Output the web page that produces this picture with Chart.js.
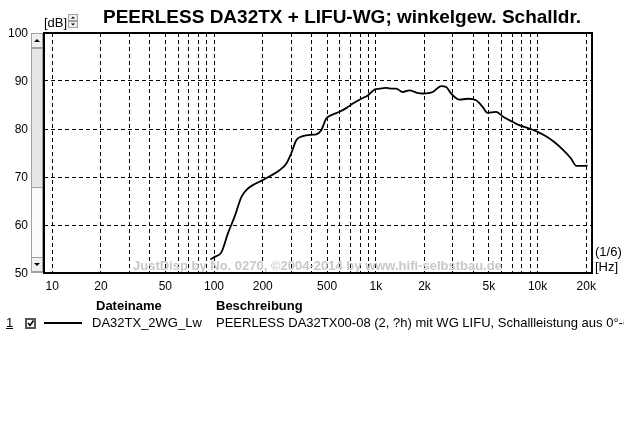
<!DOCTYPE html>
<html>
<head>
<meta charset="utf-8">
<script src="https://cdn.jsdelivr.net/npm/chart.js@4/dist/chart.umd.min.js"></script>
<style>
    html, body { margin: 0; padding: 0; background: #fff; overflow: hidden; }
    canvas { display: block; }
</style>
</head>
<body>
<canvas id="fr_chart" width="624" height="421"></canvas>
<script>
// frequency response
const freqs = [95, 100, 111, 122, 134, 148, 162, 180, 196, 225, 255, 280, 300, 323, 354, 400, 428, 460, 494, 540, 597, 660, 722, 813, 893, 982, 1054, 1159, 1274, 1336, 1468, 1614, 1780, 1951, 2250, 2535, 2722, 2920, 3288, 3700, 4168, 4575, 4910, 5530, 6225, 7010, 7710, 8890, 10000, 11270, 12680, 14270, 16060, 17400, 18070, 20360];
const levels = [52.8, 53.3, 54.3, 58.3, 61.75, 65.9, 67.6, 68.6, 69.2, 70.3, 71.45, 72.8, 74.9, 77.7, 78.5, 78.8, 78.9, 79.75, 82.2, 83.0, 83.6, 84.4, 85.3, 86.3, 87.0, 88.2, 88.4, 88.55, 88.4, 88.4, 87.7, 88.05, 87.6, 87.4, 87.7, 88.95, 88.75, 87.4, 86.1, 86.3, 86.0, 84.6, 83.35, 83.55, 82.4, 81.5, 80.8, 80.1, 79.4, 78.5, 77.3, 75.75, 73.9, 72.3, 72.3, 72.35];

const xGridValues = [10, 20, 30, 40, 50, 60, 70, 80, 90, 100, 200, 300, 400, 500, 600, 700, 800, 900, 1000, 2000, 3000, 4000, 5000, 6000, 7000, 8000, 9000, 10000, 20000];
const xTickValues = [10, 20, 50, 100, 200, 500, 1000, 2000, 5000, 10000, 20000];
const xTickLabels = ['10', '20', '50', '100', '200', '500', '1k', '2k', '5k', '10k', '20k'];
const yTicks = [100, 90, 80, 70, 60, 50];

const titleText = 'PEERLESS DA32TX + LIFU-WG; winkelgew. Schalldr.';
const watermark = 'JustDisp by No. 0270, \u00a92004-2014 by www.hifi-selbstbau.de';
const fileName = 'DA32TX_2WG_Lw';
const description = 'PEERLESS DA32TX00-08 (2, ?h) mit WG LIFU, Schallleistung aus 0\u00b0-60\u00b0';

const FONT = '"Liberation Sans", Arial, sans-serif';

function drawButton(ctx, x, y, w, h) {
    ctx.fillStyle = '#f0f0f0';
    ctx.fillRect(x, y, w, h);
    ctx.strokeStyle = '#a0a0a0';
    ctx.lineWidth = 1;
    ctx.strokeRect(x + 0.5, y + 0.5, w - 1, h - 1);
}

function drawArrow(ctx, cx, cy, up, size) {
    ctx.fillStyle = '#000';
    ctx.beginPath();
    if (up) {
        ctx.moveTo(cx - size, cy + size / 2);
        ctx.lineTo(cx + size, cy + size / 2);
        ctx.lineTo(cx, cy - size / 2);
    } else {
        ctx.moveTo(cx - size, cy - size / 2);
        ctx.lineTo(cx + size, cy - size / 2);
        ctx.lineTo(cx, cy + size / 2);
    }
    ctx.closePath();
    ctx.fill();
}

const decor = {
    id: 'decor',
    beforeDraw(chart) {
        const ctx = chart.ctx;
        ctx.save();
        ctx.fillStyle = '#fff';
        ctx.fillRect(0, 0, chart.width, chart.height);
        ctx.restore();
    },
    beforeDatasetsDraw(chart) {
        const ctx = chart.ctx;
        ctx.save();
        ctx.fillStyle = '#c8c8c8';
        ctx.font = 'bold 13px ' + FONT;
        ctx.textAlign = 'left';
        ctx.textBaseline = 'alphabetic';
        ctx.fillText(watermark, 133, 270);
        ctx.restore();
    },
    afterDraw(chart) {
        const ctx = chart.ctx;
        const a = chart.chartArea;
        const xs = chart.scales.x;
        const ys = chart.scales.y;
        ctx.save();

        // frame
        ctx.strokeStyle = '#000';
        ctx.lineWidth = 2;
        ctx.strokeRect(a.left, a.top, a.right - a.left, a.bottom - a.top);

        // scrollbar next to the y axis
        ctx.fillStyle = '#fbfbfb';
        ctx.fillRect(31, 33, 12, 240);
        ctx.strokeStyle = '#a0a0a0';
        ctx.lineWidth = 1;
        ctx.strokeRect(31.5, 33.5, 11, 239);
        ctx.fillStyle = '#e6e6e6';
        ctx.fillRect(32, 48, 10, 140);
        ctx.strokeStyle = '#a0a0a0';
        ctx.strokeRect(31.5, 48.5, 11, 139);
        drawButton(ctx, 31, 33, 12, 15);
        drawArrow(ctx, 37, 40.5, true, 3);
        drawButton(ctx, 31, 257, 12, 15);
        drawArrow(ctx, 37, 264.5, false, 3);

        // y tick labels
        ctx.fillStyle = '#000';
        ctx.font = '12px ' + FONT;
        ctx.textAlign = 'right';
        ctx.textBaseline = 'middle';
        yTicks.forEach(v => ctx.fillText(String(v), 28, ys.getPixelForValue(v) + 1));

        // x tick labels
        ctx.textAlign = 'center';
        xTickValues.forEach((v, i) => ctx.fillText(xTickLabels[i], xs.getPixelForValue(v), 287));

        // units
        ctx.font = '13px ' + FONT;
        ctx.textAlign = 'left';
        ctx.textBaseline = 'alphabetic';
        ctx.fillText('[dB]', 44, 27);
        ctx.fillText('(1/6)', 595, 256);
        ctx.fillText('[Hz]', 595, 271);

        // spin button beside [dB]
        drawButton(ctx, 68, 14, 10, 7);
        drawArrow(ctx, 73, 17.5, true, 2);
        drawButton(ctx, 68, 21, 10, 7);
        drawArrow(ctx, 73, 24.5, false, 2);

        // title
        ctx.fillStyle = '#000';
        ctx.font = 'bold 19px ' + FONT;
        ctx.fillText(titleText, 103, 23);

        // legend table
        ctx.font = 'bold 13px ' + FONT;
        ctx.fillText('Dateiname', 96, 310);
        ctx.fillText('Beschreibung', 216, 310);
        ctx.font = '13px ' + FONT;
        ctx.fillText('1', 6, 327);
        ctx.fillRect(6, 328, 7, 1);
        // checkbox
        ctx.fillStyle = '#fff';
        ctx.fillRect(25, 318, 11, 11);
        ctx.strokeStyle = '#555';
        ctx.lineWidth = 2;
        ctx.strokeRect(26, 319, 9, 9);
        ctx.strokeStyle = '#000';
        ctx.lineWidth = 1.6;
        ctx.beginPath();
        ctx.moveTo(28, 323);
        ctx.lineTo(30, 325.5);
        ctx.lineTo(33.5, 320.5);
        ctx.stroke();
        // line sample
        ctx.fillStyle = '#000';
        ctx.fillRect(44, 322, 38, 2);
        ctx.fillText(fileName, 92, 327);
        ctx.fillText(description, 216, 327);

        ctx.restore();
    }
};

const data = {
    datasets: [{
        label: fileName,
        data: freqs.map((f, i) => ({ x: f, y: levels[i] })),
        borderColor: '#000',
        borderWidth: 1.8,
        pointRadius: 0,
        fill: false,
        cubicInterpolationMode: 'monotone'
    }]
};

const config = {
    type: 'line',
    data: data,
    options: {
        responsive: false,
        animation: false,
        layout: {
            padding: { left: 44, top: 33, right: 32, bottom: 148 }
        },
        plugins: {
            legend: { display: false },
            title: { display: false },
            tooltip: { enabled: false }
        },
        scales: {
            x: {
                type: 'logarithmic',
                min: 8.89,
                max: 21700,
                afterBuildTicks: (scale) => {
                    scale.ticks = xGridValues.map(v => ({ value: v }));
                },
                ticks: { display: false },
                grid: {
                    color: '#000',
                    lineWidth: 1,
                    drawTicks: false
                },
                border: { display: false, dash: [4, 3] }
            },
            y: {
                min: 50,
                max: 100,
                ticks: { display: false, stepSize: 10 },
                grid: {
                    color: '#000',
                    lineWidth: 1,
                    drawTicks: false
                },
                border: { display: false, dash: [4, 3] }
            }
        }
    },
    plugins: [decor]
};

const myChart = new Chart(document.getElementById('fr_chart'), config);
</script>
</body>
</html>
